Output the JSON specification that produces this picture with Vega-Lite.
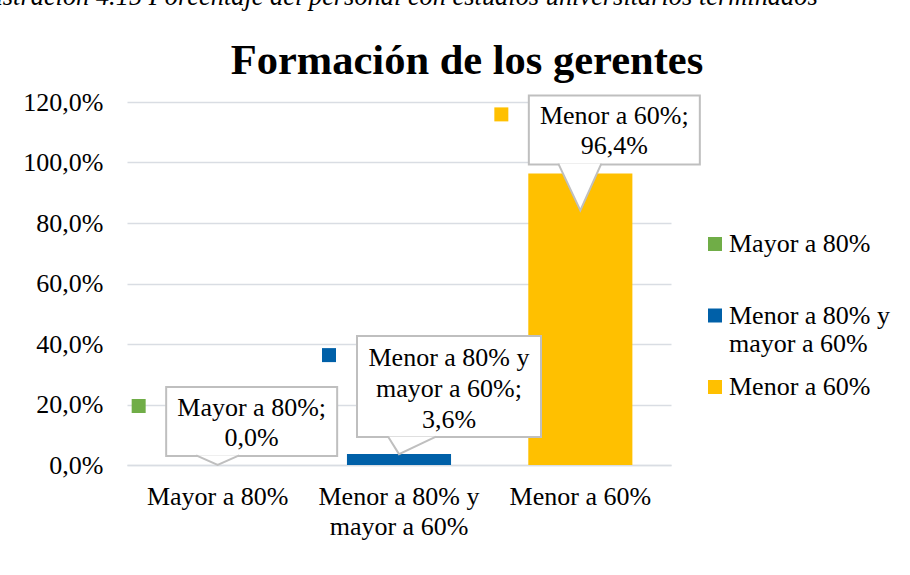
{
  "$schema": "https://vega.github.io/schema/vega-lite/v6.json",
  "autosize": {"type": "none"},
  "padding": {"left": 127, "top": 102, "right": 239, "bottom": 110},
  "width": 544,
  "height": 363,
  "background": "white",
  "title": {
    "text": "Formación de los gerentes",
    "font": "Liberation Serif",
    "fontSize": 42.5,
    "fontWeight": "bold",
    "color": "black",
    "anchor": "middle",
    "frame": "group",
    "dx": 68,
    "dy": 121,
    "offset": 22
  },
  "config": {
    "locale": {"number": {"decimal": ",", "thousands": ".", "grouping": [3], "currency": ["", " €"]}},
    "font": "Liberation Serif",
    "view": {"stroke": null},
    "axis": {"labelFont": "Liberation Serif", "labelFontSize": 26, "labelColor": "black", "titleFont": "Liberation Serif"},
    "legend": {"labelFont": "Liberation Serif", "labelFontSize": 26, "labelColor": "black"}
  },
  "data": {
    "values": [
      {"cat": "Mayor a 80%", "value": 0.0, "callout": "Mayor a 80%;\n0,0%"},
      {"cat": "Menor a 80% y mayor a 60%", "value": 0.036, "callout": "Menor a 80% y\nmayor a 60%;\n3,6%"},
      {"cat": "Menor a 60%", "value": 0.964, "callout": "Menor a 60%;\n96,4%"}
    ]
  },
  "encoding": {
    "x": {
      "field": "cat",
      "type": "nominal",
      "sort": null,
      "scale": {"paddingInner": 0.426, "paddingOuter": 0.213},
      "axis": {
        "title": null,
        "labelAngle": 0,
        "ticks": false,
        "domainColor": "#d9dde3",
        "domainWidth": 1.5,
        "labelPadding": 18,
        "labelLineHeight": 30,
        "labelLimit": 0,
        "labelExpr": "datum.label == 'Menor a 80% y mayor a 60%' ? ['Menor a 80% y', 'mayor a 60%'] : datum.label"
      }
    },
    "y": {
      "field": "value",
      "type": "quantitative",
      "scale": {"domain": [0, 1.2], "nice": false},
      "axis": {
        "title": "Ilustración 4.15 Porcentaje del personal con estudios universitarios terminados",
        "titleAngle": 0,
        "titleAlign": "left",
        "titleBaseline": "alphabetic",
        "titleX": -154,
        "titleY": -98,
        "titleFont": "Liberation Serif",
        "titleFontStyle": "italic",
        "titleFontWeight": "normal",
        "titleFontSize": 26.4,
        "titleColor": "black",
        "titleLimit": 0,
        "format": ".1%",
        "values": [0, 0.2, 0.4, 0.6, 0.8, 1.0, 1.2],
        "ticks": false,
        "domain": false,
        "gridColor": "#d9dde3",
        "gridWidth": 1.5,
        "labelPadding": 24
      }
    }
  },
  "layer": [
    {
      "mark": {"type": "bar", "stroke": null},
      "encoding": {
        "y": {"field": "value", "type": "quantitative", "stack": null},
        "color": {
          "field": "cat",
          "type": "nominal",
          "sort": null,
          "scale": {
            "domain": ["Mayor a 80%", "Menor a 80% y mayor a 60%", "Menor a 60%"],
            "range": ["#70AD47", "#0060A8", "#FFC000"]
          },
          "legend": {
            "title": null,
            "orient": "none",
            "legendX": 575,
            "legendY": 129,
            "symbolType": "square",
            "symbolSize": 196,
            "symbolStrokeWidth": 0,
            "symbolOpacity": 1,
            "labelOffset": 1,
            "labelLineHeight": 28,
            "labelLimit": 0,
            "rowPadding": 17.5,
            "labelExpr": "datum.label == 'Menor a 80% y mayor a 60%' ? ['Menor a 80% y', 'mayor a 60%'] : [datum.label, ' ']"
          }
        }
      }
    },
    {
      "transform": [{"filter": "datum.cat != 'Menor a 80% y mayor a 60%'"}],
      "mark": {"type": "bar", "width": 171, "xOffset": 34, "yOffset": -78, "y2Offset": -9, "fill": "white", "stroke": "#bfbfbf", "strokeWidth": 2},
      "encoding": {
        "y": {"field": "value", "type": "quantitative"},
        "y2": {"field": "value"}
      }
    },
    {
      "transform": [{"filter": "datum.cat == 'Menor a 80% y mayor a 60%'"}],
      "mark": {"type": "bar", "width": 184, "xOffset": 50, "yOffset": -118, "y2Offset": -17, "fill": "white", "stroke": "#bfbfbf", "strokeWidth": 2},
      "encoding": {
        "y": {"field": "value", "type": "quantitative"},
        "y2": {"field": "value"}
      }
    },
    {
      "transform": [{"filter": "datum.cat == 'Mayor a 80%'"}],
      "mark": {"type": "point", "shape": "M-1,-0.45L0,0L1,-0.45", "size": 1849, "filled": true, "fill": "white", "stroke": "#bfbfbf", "strokeWidth": 2, "opacity": 1}
    },
    {
      "transform": [{"filter": "datum.cat == 'Menor a 80% y mayor a 60%'"}],
      "mark": {"type": "point", "shape": "M-0.297,-0.475L0,0L1,-0.475", "size": 5476, "filled": true, "fill": "white", "stroke": "#bfbfbf", "strokeWidth": 2, "opacity": 1}
    },
    {
      "transform": [{"filter": "datum.cat == 'Menor a 60%'"}],
      "mark": {"type": "point", "shape": "M-0.595,-0.265L0,1L0.568,-0.265", "size": 5476, "filled": true, "fill": "white", "stroke": "#bfbfbf", "strokeWidth": 2, "opacity": 1}
    },
    {
      "transform": [{"filter": "datum.cat != 'Menor a 80% y mayor a 60%'"}],
      "mark": {"type": "text", "lineBreak": "\n", "font": "Liberation Serif", "fontSize": 26, "lineHeight": 30, "baseline": "middle", "align": "center", "dx": 34, "dy": -57, "color": "black"},
      "encoding": {"text": {"field": "callout"}}
    },
    {
      "transform": [{"filter": "datum.cat == 'Menor a 80% y mayor a 60%'"}],
      "mark": {"type": "text", "lineBreak": "\n", "font": "Liberation Serif", "fontSize": 26, "lineHeight": 31, "baseline": "middle", "align": "center", "dx": 50, "dy": -96, "color": "black"},
      "encoding": {"text": {"field": "callout"}}
    },
    {
      "transform": [{"filter": "datum.cat != 'Menor a 80% y mayor a 60%'"}],
      "mark": {"type": "point", "shape": "square", "size": 196, "filled": true, "opacity": 1, "xOffset": -79, "yOffset": -59},
      "encoding": {"color": {"field": "cat", "type": "nominal", "sort": null}}
    },
    {
      "transform": [{"filter": "datum.cat == 'Menor a 80% y mayor a 60%'"}],
      "mark": {"type": "point", "shape": "square", "size": 196, "filled": true, "opacity": 1, "xOffset": -70, "yOffset": -99},
      "encoding": {"color": {"field": "cat", "type": "nominal", "sort": null}}
    }
  ]
}
